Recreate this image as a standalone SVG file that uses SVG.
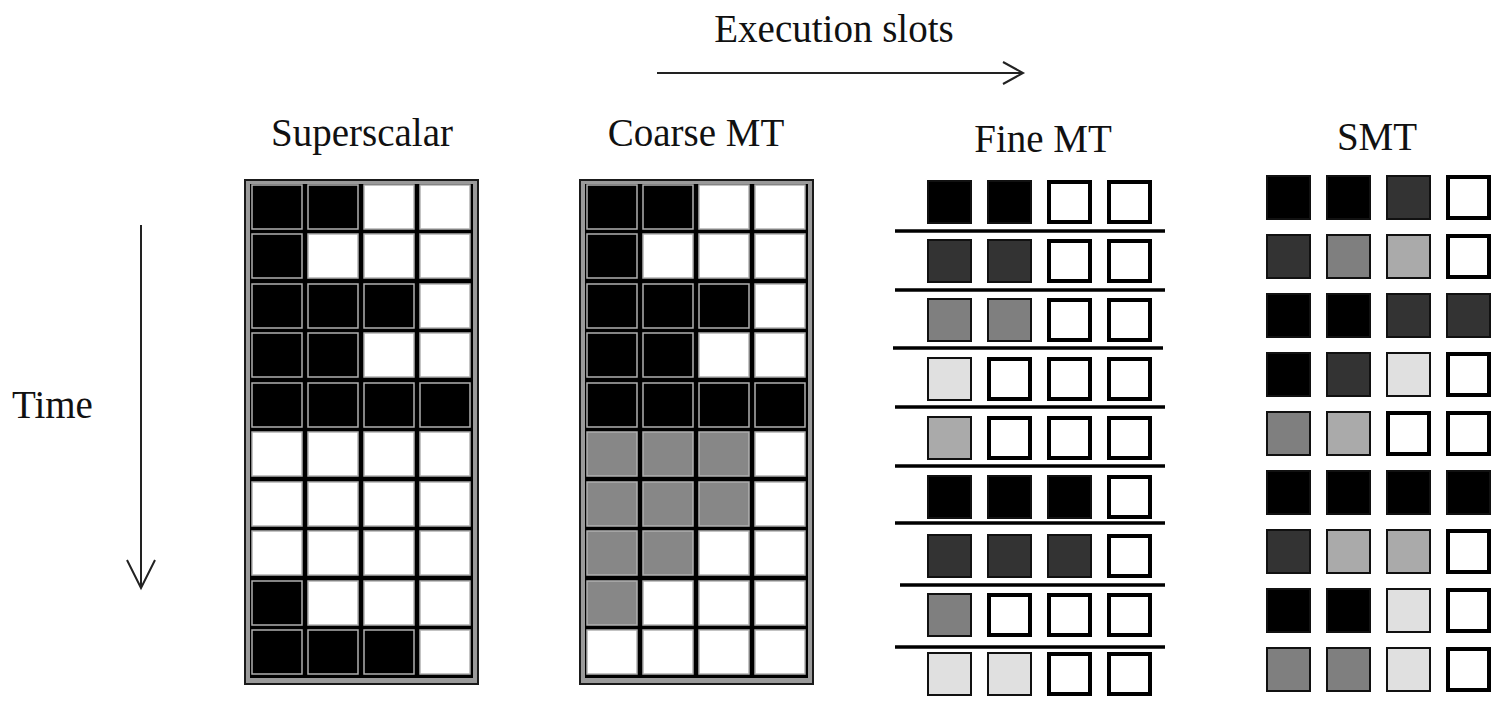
<svg xmlns="http://www.w3.org/2000/svg" width="1498" height="706" viewBox="0 0 1498 706">
<style>
text{font-family:"Liberation Serif","Times New Roman",serif;font-size:39px;fill:#111}
.frame{fill:#9a9a9a;stroke:#1a1a1a;stroke-width:2}
.inner{fill:#000}
.gc{stroke:#b0b0b0;stroke-width:1.5;width:50px;height:44px}
.k{fill:#000}.w{fill:#fff}.g{fill:#878787}
.sq{stroke:#111;stroke-width:2}
.sw{fill:#fff;stroke:#000;stroke-width:4}
.c0{fill:#000}.c1{fill:#333}.c2{fill:#7f7f7f}.c3{fill:#aaa}.c4{fill:#e0e0e0}
.sep{stroke:#000;stroke-width:3.5}
.arr{stroke:#222;stroke-width:2;fill:none}
</style>
<rect width="1498" height="706" fill="#fff"/>
<g id="connectors">
<line class="arr" x1="657" y1="73" x2="1022" y2="73"/>
<polyline class="arr" points="1003,62 1023,73 1003,84"/>
<line class="arr" x1="141" y1="225" x2="141" y2="587"/>
<polyline class="arr" points="127,560 141,588 155,560"/>
</g>
<g id="labels">
<text x="834" y="42" text-anchor="middle">Execution slots</text>
<text x="12" y="418">Time</text>
</g>
<g id="superscalar">
<text x="362" y="146" text-anchor="middle">Superscalar</text>
<rect class="frame" x="245" y="180" width="233" height="504"/>
<rect class="inner" x="250" y="184" width="223" height="494"/>
<rect class="gc k" x="252" y="185" width="50" height="44"/><rect class="gc k" x="308" y="185" width="50" height="44"/><rect class="gc w" x="364" y="185" width="50" height="44"/><rect class="gc w" x="420" y="185" width="50" height="44"/>
<rect class="gc k" x="252" y="234" width="50" height="44"/><rect class="gc w" x="308" y="234" width="50" height="44"/><rect class="gc w" x="364" y="234" width="50" height="44"/><rect class="gc w" x="420" y="234" width="50" height="44"/>
<rect class="gc k" x="252" y="284" width="50" height="44"/><rect class="gc k" x="308" y="284" width="50" height="44"/><rect class="gc k" x="364" y="284" width="50" height="44"/><rect class="gc w" x="420" y="284" width="50" height="44"/>
<rect class="gc k" x="252" y="333" width="50" height="44"/><rect class="gc k" x="308" y="333" width="50" height="44"/><rect class="gc w" x="364" y="333" width="50" height="44"/><rect class="gc w" x="420" y="333" width="50" height="44"/>
<rect class="gc k" x="252" y="383" width="50" height="44"/><rect class="gc k" x="308" y="383" width="50" height="44"/><rect class="gc k" x="364" y="383" width="50" height="44"/><rect class="gc k" x="420" y="383" width="50" height="44"/>
<rect class="gc w" x="252" y="432" width="50" height="44"/><rect class="gc w" x="308" y="432" width="50" height="44"/><rect class="gc w" x="364" y="432" width="50" height="44"/><rect class="gc w" x="420" y="432" width="50" height="44"/>
<rect class="gc w" x="252" y="482" width="50" height="44"/><rect class="gc w" x="308" y="482" width="50" height="44"/><rect class="gc w" x="364" y="482" width="50" height="44"/><rect class="gc w" x="420" y="482" width="50" height="44"/>
<rect class="gc w" x="252" y="531" width="50" height="44"/><rect class="gc w" x="308" y="531" width="50" height="44"/><rect class="gc w" x="364" y="531" width="50" height="44"/><rect class="gc w" x="420" y="531" width="50" height="44"/>
<rect class="gc k" x="252" y="581" width="50" height="44"/><rect class="gc w" x="308" y="581" width="50" height="44"/><rect class="gc w" x="364" y="581" width="50" height="44"/><rect class="gc w" x="420" y="581" width="50" height="44"/>
<rect class="gc k" x="252" y="630" width="50" height="44"/><rect class="gc k" x="308" y="630" width="50" height="44"/><rect class="gc k" x="364" y="630" width="50" height="44"/><rect class="gc w" x="420" y="630" width="50" height="44"/>
</g>
<g id="coarse-mt">
<text x="696" y="146" text-anchor="middle">Coarse MT</text>
<rect class="frame" x="580" y="180" width="233" height="504"/>
<rect class="inner" x="585" y="184" width="223" height="494"/>
<rect class="gc k" x="587" y="185" width="50" height="44"/><rect class="gc k" x="643" y="185" width="50" height="44"/><rect class="gc w" x="699" y="185" width="50" height="44"/><rect class="gc w" x="755" y="185" width="50" height="44"/>
<rect class="gc k" x="587" y="234" width="50" height="44"/><rect class="gc w" x="643" y="234" width="50" height="44"/><rect class="gc w" x="699" y="234" width="50" height="44"/><rect class="gc w" x="755" y="234" width="50" height="44"/>
<rect class="gc k" x="587" y="284" width="50" height="44"/><rect class="gc k" x="643" y="284" width="50" height="44"/><rect class="gc k" x="699" y="284" width="50" height="44"/><rect class="gc w" x="755" y="284" width="50" height="44"/>
<rect class="gc k" x="587" y="333" width="50" height="44"/><rect class="gc k" x="643" y="333" width="50" height="44"/><rect class="gc w" x="699" y="333" width="50" height="44"/><rect class="gc w" x="755" y="333" width="50" height="44"/>
<rect class="gc k" x="587" y="383" width="50" height="44"/><rect class="gc k" x="643" y="383" width="50" height="44"/><rect class="gc k" x="699" y="383" width="50" height="44"/><rect class="gc k" x="755" y="383" width="50" height="44"/>
<rect class="gc g" x="587" y="432" width="50" height="44"/><rect class="gc g" x="643" y="432" width="50" height="44"/><rect class="gc g" x="699" y="432" width="50" height="44"/><rect class="gc w" x="755" y="432" width="50" height="44"/>
<rect class="gc g" x="587" y="482" width="50" height="44"/><rect class="gc g" x="643" y="482" width="50" height="44"/><rect class="gc g" x="699" y="482" width="50" height="44"/><rect class="gc w" x="755" y="482" width="50" height="44"/>
<rect class="gc g" x="587" y="531" width="50" height="44"/><rect class="gc g" x="643" y="531" width="50" height="44"/><rect class="gc w" x="699" y="531" width="50" height="44"/><rect class="gc w" x="755" y="531" width="50" height="44"/>
<rect class="gc g" x="587" y="581" width="50" height="44"/><rect class="gc w" x="643" y="581" width="50" height="44"/><rect class="gc w" x="699" y="581" width="50" height="44"/><rect class="gc w" x="755" y="581" width="50" height="44"/>
<rect class="gc w" x="587" y="630" width="50" height="44"/><rect class="gc w" x="643" y="630" width="50" height="44"/><rect class="gc w" x="699" y="630" width="50" height="44"/><rect class="gc w" x="755" y="630" width="50" height="44"/>
</g>
<g id="fine-mt">
<text x="1043" y="152" text-anchor="middle">Fine MT</text>
<line class="sep" x1="895" y1="231" x2="1165" y2="231"/>
<line class="sep" x1="895" y1="290" x2="1165" y2="290"/>
<line class="sep" x1="893" y1="348" x2="1163" y2="348"/>
<line class="sep" x1="895" y1="407" x2="1165" y2="407"/>
<line class="sep" x1="895" y1="466" x2="1165" y2="466"/>
<line class="sep" x1="895" y1="523" x2="1165" y2="523"/>
<line class="sep" x1="900" y1="585" x2="1165" y2="585"/>
<line class="sep" x1="895" y1="647" x2="1165" y2="647"/>
<rect class="sq c0" x="928" y="181" width="43" height="42"/><rect class="sq c0" x="988" y="181" width="43" height="42"/><rect class="sw" x="1049" y="182" width="41" height="40"/><rect class="sw" x="1109" y="182" width="41" height="40"/>
<rect class="sq c1" x="928" y="240" width="43" height="42"/><rect class="sq c1" x="988" y="240" width="43" height="42"/><rect class="sw" x="1049" y="241" width="41" height="40"/><rect class="sw" x="1109" y="241" width="41" height="40"/>
<rect class="sq c2" x="928" y="299" width="43" height="42"/><rect class="sq c2" x="988" y="299" width="43" height="42"/><rect class="sw" x="1049" y="300" width="41" height="40"/><rect class="sw" x="1109" y="300" width="41" height="40"/>
<rect class="sq c4" x="928" y="358" width="43" height="42"/><rect class="sw" x="989" y="359" width="41" height="40"/><rect class="sw" x="1049" y="359" width="41" height="40"/><rect class="sw" x="1109" y="359" width="41" height="40"/>
<rect class="sq c3" x="928" y="417" width="43" height="42"/><rect class="sw" x="989" y="418" width="41" height="40"/><rect class="sw" x="1049" y="418" width="41" height="40"/><rect class="sw" x="1109" y="418" width="41" height="40"/>
<rect class="sq c0" x="928" y="476" width="43" height="42"/><rect class="sq c0" x="988" y="476" width="43" height="42"/><rect class="sq c0" x="1048" y="476" width="43" height="42"/><rect class="sw" x="1109" y="477" width="41" height="40"/>
<rect class="sq c1" x="928" y="535" width="43" height="42"/><rect class="sq c1" x="988" y="535" width="43" height="42"/><rect class="sq c1" x="1048" y="535" width="43" height="42"/><rect class="sw" x="1109" y="536" width="41" height="40"/>
<rect class="sq c2" x="928" y="594" width="43" height="42"/><rect class="sw" x="989" y="595" width="41" height="40"/><rect class="sw" x="1049" y="595" width="41" height="40"/><rect class="sw" x="1109" y="595" width="41" height="40"/>
<rect class="sq c4" x="928" y="653" width="43" height="42"/><rect class="sq c4" x="988" y="653" width="43" height="42"/><rect class="sw" x="1049" y="654" width="41" height="40"/><rect class="sw" x="1109" y="654" width="41" height="40"/>
</g>
<g id="smt">
<text x="1377" y="150" text-anchor="middle">SMT</text>
<rect class="sq c0" x="1267" y="176" width="43" height="43"/><rect class="sq c0" x="1327" y="176" width="43" height="43"/><rect class="sq c1" x="1387" y="176" width="43" height="43"/><rect class="sw" x="1448" y="177" width="41" height="41"/>
<rect class="sq c1" x="1267" y="235" width="43" height="43"/><rect class="sq c2" x="1327" y="235" width="43" height="43"/><rect class="sq c3" x="1387" y="235" width="43" height="43"/><rect class="sw" x="1448" y="236" width="41" height="41"/>
<rect class="sq c0" x="1267" y="294" width="43" height="43"/><rect class="sq c0" x="1327" y="294" width="43" height="43"/><rect class="sq c1" x="1387" y="294" width="43" height="43"/><rect class="sq c1" x="1447" y="294" width="43" height="43"/>
<rect class="sq c0" x="1267" y="353" width="43" height="43"/><rect class="sq c1" x="1327" y="353" width="43" height="43"/><rect class="sq c4" x="1387" y="353" width="43" height="43"/><rect class="sw" x="1448" y="354" width="41" height="41"/>
<rect class="sq c2" x="1267" y="412" width="43" height="43"/><rect class="sq c3" x="1327" y="412" width="43" height="43"/><rect class="sw" x="1388" y="413" width="41" height="41"/><rect class="sw" x="1448" y="413" width="41" height="41"/>
<rect class="sq c0" x="1267" y="471" width="43" height="43"/><rect class="sq c0" x="1327" y="471" width="43" height="43"/><rect class="sq c0" x="1387" y="471" width="43" height="43"/><rect class="sq c0" x="1447" y="471" width="43" height="43"/>
<rect class="sq c1" x="1267" y="530" width="43" height="43"/><rect class="sq c3" x="1327" y="530" width="43" height="43"/><rect class="sq c3" x="1387" y="530" width="43" height="43"/><rect class="sw" x="1448" y="531" width="41" height="41"/>
<rect class="sq c0" x="1267" y="589" width="43" height="43"/><rect class="sq c0" x="1327" y="589" width="43" height="43"/><rect class="sq c4" x="1387" y="589" width="43" height="43"/><rect class="sw" x="1448" y="590" width="41" height="41"/>
<rect class="sq c2" x="1267" y="648" width="43" height="43"/><rect class="sq c2" x="1327" y="648" width="43" height="43"/><rect class="sq c4" x="1387" y="648" width="43" height="43"/><rect class="sw" x="1448" y="649" width="41" height="41"/>
</g>
</svg>
